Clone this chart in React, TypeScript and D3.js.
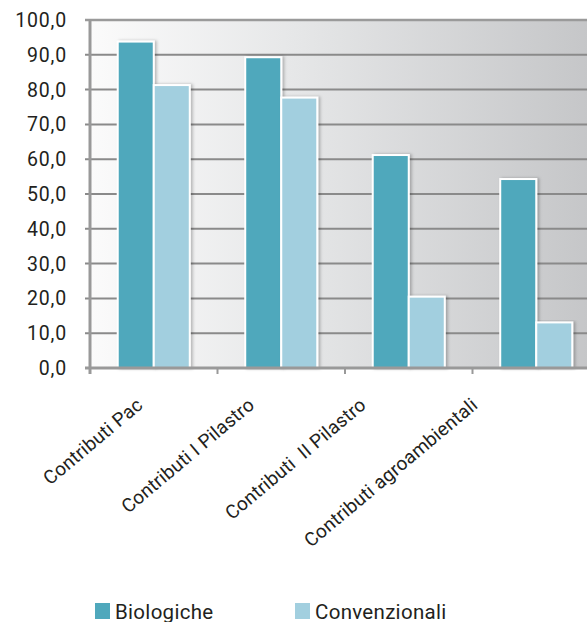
import React from 'react';
import * as d3 from 'd3';

// values
const categories = ['Contributi Pac', 'Contributi I Pilastro', 'Contributi  II Pilastro', 'Contributi agroambientali'];
const seriesNames = ['Biologiche', 'Convenzionali'];
const biologiche = [93.8, 89.3, 61.2, 54.3];
const convenzionali = [81.3, 77.7, 20.5, 13.1];
const yTicks = [0, 10, 20, 30, 40, 50, 60, 70, 80, 90, 100];

const colors = ['#4fa8bc', '#a2cfdf'];
const W = 587;
const H = 622;
const margin = { top: 20, left: 90, bottom: 254 };
const plotRight = 600; // plot area runs past the right edge
const font = 'Roboto, "DejaVu Sans", sans-serif';

const App: React.FC = () => {
  const x = d3.scaleBand<string>().domain(categories).range([margin.left, plotRight]).padding(0);
  const xs = d3.scaleBand<string>().domain(seriesNames).range([0, x.bandwidth()]).paddingInner(0).paddingOuter(0.77);
  const y = d3.scaleLinear().domain([0, 100]).range([H - margin.bottom, margin.top]);
  // rotated labels are spaced a bit tighter than the bands
  const xLabel = d3.scalePoint<string>().domain(categories).range([144, 479]);

  const series = [biologiche, convenzionali];
  const fmt = (v: number) => d3.format('.1f')(v).replace('.', ',');
  const y0 = y(0);

  return (
    <svg width={W} height={H} style={{ position: 'absolute', left: 0, top: 0 }} fontFamily={font}>
      <defs>
        <linearGradient id="bg" x1="0" x2="1" y1="0" y2="0">
          <stop offset="0" stopColor="#fbfbfb" />
          <stop offset="0.4" stopColor="#e6e7e8" />
          <stop offset="1" stopColor="#c4c5c7" />
        </linearGradient>
        <filter id="sh" x="-20%" y="-5%" width="140%" height="110%">
          <feDropShadow dx="2" dy="0" stdDeviation="1.5" floodColor="#000" floodOpacity="0.25" />
        </filter>
      </defs>

      {/* plot background */}
      <rect x={margin.left} y={margin.top} width={plotRight - margin.left} height={y0 - margin.top} fill="url(#bg)" />

      {/* gridlines */}
      {yTicks.map(t => (
        <line key={t} x1={margin.left - 5} x2={plotRight} y1={y(t)} y2={y(t)}
          stroke={t === 100 ? '#9a9a9a' : '#8a8a8a'} strokeWidth={t === 100 ? 2.5 : 2} />
      ))}

      {/* bars */}
      {categories.map((c, i) => (
        <g key={c} transform={`translate(${x(c)},0)`}>
          {seriesNames.map((s, j) => (
            <rect key={s} x={xs(s)} y={y(series[j][i])} width={xs.bandwidth()} height={y0 - y(series[j][i])}
              fill={colors[j]} stroke="#fff" strokeWidth={2} filter="url(#sh)" />
          ))}
        </g>
      ))}

      {/* axes */}
      <line x1={margin.left} x2={margin.left} y1={margin.top - 1} y2={y0 + 6} stroke="#999" strokeWidth={3} />
      <line x1={margin.left - 5} x2={plotRight} y1={y0} y2={y0} stroke="#999" strokeWidth={3} />
      {categories.map(c => (
        <line key={c} x1={x(c) as number} x2={x(c) as number} y1={y0} y2={y0 + 6} stroke="#999" strokeWidth={2} />
      ))}

      {/* y tick labels */}
      {yTicks.map(t => (
        <text key={t} x={67} y={y(t)} dy="0.36em" textAnchor="end" fontSize={19.5} letterSpacing={0.8} fill="#231f20">
          {fmt(t)}
        </text>
      ))}

      {/* x labels */}
      {categories.map(c => (
        <text key={c} transform={`translate(${xLabel(c)},${y0 + 39}) rotate(-40)`} textAnchor="end"
          fontSize={19} letterSpacing={0.2} fill="#231f20" style={{ whiteSpace: 'pre' }}>
          {c}
        </text>
      ))}

      {/* legend */}
      {seriesNames.map((s, j) => (
        <g key={s} transform={`translate(${95 + j * 200},603)`}>
          <rect width={15} height={16} fill={colors[j]} />
          <text x={20} y={15.5} fontSize={20.5} letterSpacing={0.3} fill="#231f20">{s}</text>
        </g>
      ))}
    </svg>
  );
};

export default App;
